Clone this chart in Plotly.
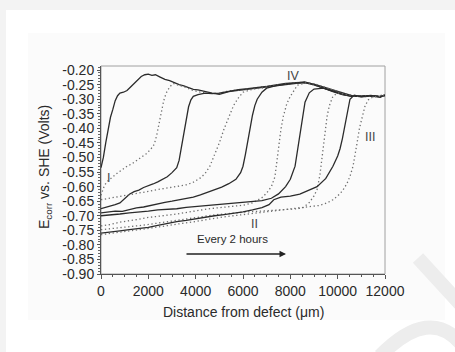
import plotly.graph_objects as go

# ---------------- data ----------------
x1 = [0,100,200,300,400,500,600,700,800,950,1100,1250,1400,1550,1700,1850,2000,2150,2300,2500,2700,2900,3100,3300,3500,3700,3900,4100,4400,4700,5000,5400,5800,6200,6600,7000,7400,7800,8200,8600,9000,9400,9800,10200,10600,11000,11400,11800,12000]
v1 = [-0.535,-0.50,-0.45,-0.40,-0.362,-0.335,-0.305,-0.288,-0.279,-0.276,-0.27,-0.258,-0.245,-0.232,-0.222,-0.216,-0.214,-0.218,-0.216,-0.224,-0.232,-0.236,-0.243,-0.25,-0.254,-0.26,-0.266,-0.268,-0.274,-0.279,-0.283,-0.274,-0.270,-0.266,-0.262,-0.258,-0.252,-0.248,-0.245,-0.242,-0.248,-0.258,-0.27,-0.28,-0.288,-0.292,-0.289,-0.293,-0.286]

x2 = [0,150,300,500,700,900,1100,1300,1500,1700,1900,2100,2250,2350,2450,2550,2650,2750,2900,3050,3300,3600,3900,4200,4600,5000,5400,5800,6200,6600,7000,7400,7800,8200,8600,9000,9400,9800,10200,10600,11000,11400,11800,12000]
v2 = [-0.63,-0.595,-0.58,-0.565,-0.553,-0.542,-0.53,-0.522,-0.51,-0.498,-0.488,-0.472,-0.455,-0.425,-0.385,-0.34,-0.305,-0.28,-0.258,-0.246,-0.252,-0.26,-0.27,-0.276,-0.28,-0.28,-0.271,-0.268,-0.266,-0.26,-0.256,-0.25,-0.247,-0.244,-0.243,-0.25,-0.26,-0.272,-0.282,-0.289,-0.291,-0.288,-0.292,-0.284]

x3 = [0,200,400,600,800,1000,1200,1400,1600,1800,2000,2200,2400,2600,2800,3000,3200,3300,3400,3500,3600,3700,3800,3900,4100,4400,4700,5000,5400,5800,6200,6600,7000,7400,7800,8200,8600,9000,9400,9800,10200,10600,11000,11400,11800,12000]
v3 = [-0.676,-0.672,-0.668,-0.662,-0.656,-0.642,-0.626,-0.617,-0.612,-0.603,-0.598,-0.591,-0.584,-0.576,-0.566,-0.552,-0.535,-0.51,-0.462,-0.41,-0.362,-0.326,-0.302,-0.29,-0.284,-0.279,-0.281,-0.279,-0.273,-0.267,-0.264,-0.261,-0.256,-0.251,-0.246,-0.244,-0.241,-0.249,-0.262,-0.274,-0.284,-0.29,-0.29,-0.287,-0.291,-0.288]

x4 = [0,300,600,900,1200,1500,1800,2100,2400,2700,3000,3300,3600,3900,4200,4400,4600,4800,5000,5200,5400,5600,5800,6000,6400,6800,7200,7600,8000,8400,8800,9200,9600,10000,10400,10800,11200,11600,12000]
v4 = [-0.645,-0.641,-0.637,-0.633,-0.629,-0.625,-0.619,-0.615,-0.61,-0.606,-0.601,-0.598,-0.594,-0.585,-0.57,-0.555,-0.53,-0.49,-0.45,-0.402,-0.36,-0.322,-0.296,-0.276,-0.266,-0.262,-0.254,-0.249,-0.245,-0.242,-0.246,-0.256,-0.268,-0.278,-0.287,-0.29,-0.289,-0.291,-0.285]

x5 = [0,300,600,900,1200,1500,1800,2100,2400,2700,3000,3300,3600,3900,4200,4500,4800,5100,5400,5700,5900,6000,6100,6200,6300,6400,6500,6600,6800,7000,7400,7800,8200,8600,9000,9400,9800,10200,10600,11000,11400,11800,12000]
v5 = [-0.69,-0.688,-0.684,-0.685,-0.679,-0.673,-0.67,-0.664,-0.66,-0.654,-0.65,-0.646,-0.642,-0.636,-0.628,-0.62,-0.61,-0.602,-0.59,-0.575,-0.552,-0.53,-0.49,-0.45,-0.40,-0.355,-0.322,-0.30,-0.276,-0.262,-0.253,-0.248,-0.244,-0.243,-0.251,-0.262,-0.273,-0.283,-0.29,-0.29,-0.288,-0.292,-0.287]

x6 = [0,400,800,1200,1600,2000,2400,2800,3200,3600,4000,4400,4800,5200,5600,6000,6400,6800,7000,7200,7350,7480,7600,7700,7850,8000,8300,8700,9100,9500,9900,10300,10700,11100,11500,12000]
v6 = [-0.735,-0.73,-0.722,-0.718,-0.712,-0.706,-0.703,-0.698,-0.694,-0.688,-0.682,-0.678,-0.674,-0.67,-0.668,-0.664,-0.656,-0.638,-0.622,-0.60,-0.566,-0.475,-0.405,-0.36,-0.316,-0.29,-0.252,-0.243,-0.249,-0.26,-0.272,-0.283,-0.289,-0.291,-0.289,-0.286]

x7 = [0,400,800,1200,1600,2000,2400,2800,3200,3600,4000,4400,4800,5200,5600,6000,6400,6800,7200,7500,7800,8000,8200,8300,8410,8520,8620,8800,9000,9400,9800,10200,10600,11000,11400,11800,12000]
v7 = [-0.70,-0.698,-0.694,-0.69,-0.688,-0.684,-0.68,-0.678,-0.676,-0.671,-0.668,-0.666,-0.662,-0.66,-0.658,-0.655,-0.652,-0.648,-0.64,-0.625,-0.60,-0.575,-0.53,-0.48,-0.416,-0.36,-0.31,-0.278,-0.265,-0.262,-0.272,-0.282,-0.289,-0.29,-0.288,-0.291,-0.286]

x8 = [0,400,800,1200,1600,2000,2400,2800,3200,3600,4000,4400,4800,5200,5600,6000,6400,6800,7200,7600,8000,8300,8540,8800,9000,9130,9250,9340,9450,9550,9650,9800,10000,10400,10800,11200,11600,12000]
v8 = [-0.748,-0.745,-0.742,-0.738,-0.734,-0.73,-0.725,-0.72,-0.716,-0.71,-0.705,-0.70,-0.697,-0.694,-0.69,-0.688,-0.686,-0.684,-0.682,-0.68,-0.678,-0.676,-0.672,-0.655,-0.632,-0.61,-0.56,-0.50,-0.42,-0.36,-0.322,-0.29,-0.278,-0.284,-0.29,-0.288,-0.292,-0.285]

x9 = [0,400,800,1200,1600,2000,2400,2800,3200,3600,4000,4400,4800,5200,5600,6000,6400,6800,7100,7300,7600,8000,8400,8800,9130,9500,9800,10000,10100,10200,10300,10400,10520,10700,11000,11400,11800,12000]
v9 = [-0.76,-0.757,-0.752,-0.748,-0.745,-0.74,-0.733,-0.726,-0.72,-0.716,-0.71,-0.704,-0.70,-0.696,-0.692,-0.687,-0.68,-0.672,-0.662,-0.645,-0.636,-0.633,-0.626,-0.612,-0.60,-0.572,-0.53,-0.495,-0.47,-0.435,-0.395,-0.345,-0.30,-0.286,-0.291,-0.288,-0.292,-0.287]

x10 = [0,400,800,1200,1600,2000,2400,2800,3200,3600,4000,4400,4800,5200,5600,6000,6400,6800,7200,7600,8000,8400,8800,9200,9550,9800,10000,10200,10390,10520,10650,10750,10820,10920,11030,11160,11300,11500,11800,12000]
v10 = [-0.765,-0.76,-0.756,-0.752,-0.748,-0.744,-0.74,-0.734,-0.729,-0.725,-0.72,-0.714,-0.708,-0.704,-0.70,-0.696,-0.693,-0.689,-0.686,-0.682,-0.678,-0.674,-0.67,-0.665,-0.656,-0.645,-0.632,-0.615,-0.59,-0.565,-0.53,-0.49,-0.45,-0.40,-0.36,-0.322,-0.302,-0.292,-0.29,-0.288]

x_tick_vals = [0, 2000, 4000, 6000, 8000, 10000, 12000]
x_tick_text = ["0", "2000", "4000", "6000", "8000", "10000", "12000"]
y_tick_vals = [-0.90, -0.85, -0.80, -0.75, -0.70, -0.65, -0.60, -0.55, -0.50,
               -0.45, -0.40, -0.35, -0.30, -0.25, -0.20]
y_tick_text = ["-0.90", "-0.85", "-0.80", "-0.75", "-0.70", "-0.65", "-0.60", "-0.55",
               "-0.50", "-0.45", "-0.40", "-0.35", "-0.30", "-0.25", "-0.20"]

region_labels = ["I", "II", "III", "IV"]
region_x = [300, 6500, 11350, 8100]
region_v = [-0.57, -0.73, -0.43, -0.22]

# ---------------- figure ----------------
curves = [(x1, v1), (x2, v2), (x3, v3), (x4, v4), (x5, v5),
          (x6, v6), (x7, v7), (x8, v8), (x9, v9), (x10, v10)]

FONT = "Liberation Sans, Arial, sans-serif"
fig = go.Figure()
for i, (xs, vs) in enumerate(curves):
    if i % 2 == 0:
        line = dict(color="#2b2b2b", width=1.3)
    else:
        line = dict(color="#6e6e6e", width=1.3, dash="1.3px,2.6px")
    fig.add_trace(go.Scatter(x=xs, y=vs, mode="lines", line=line,
                             showlegend=False, hoverinfo="skip"))

L, R, T, B = 101, 70, 66, 78
W, H = 455, 352
pw, ph = W - L - R, H - T - B

def px(xp):
    return (xp - L) / pw

def py(yp):
    return (H - B - yp) / ph

shapes = [
    dict(type="rect", xref="paper", yref="paper", x0=px(6), x1=px(455), y0=py(352), y1=py(10),
         fillcolor="white", line=dict(width=0), layer="below"),
    dict(type="rect", xref="paper", yref="paper", x0=px(28), x1=px(445), y0=py(320), y1=py(33),
         fillcolor="#fbfbfb", line=dict(width=0), layer="below"),
    dict(type="rect", xref="paper", yref="paper", x0=0, x1=1, y0=0, y1=1,
         line=dict(color="#a0a0a0", width=1), layer="below"),
    dict(type="line", xref="paper", yref="paper", x0=px(418), y0=py(258), x1=px(462), y1=py(306),
         line=dict(color="#ededed", width=14), layer="below"),
    dict(type="path", xref="paper", yref="paper",
         path="M {} {} Q {} {} {} {}".format(px(380), py(356), px(430), py(305), px(462), py(345)),
         line=dict(color="#ededed", width=14), layer="below"),
]

annotations = [
    dict(text="E<sub>corr</sub> vs. SHE (Volts)", xref="paper", yref="paper",
         x=px(45), y=py(167), textangle=-90, showarrow=False,
         font=dict(size=14, color="#2a2a2a", family=FONT), xanchor="center", yanchor="middle"),
    dict(text="Distance from defect (\u03bcm)", xref="paper", yref="paper",
         x=px(243), y=py(312), showarrow=False,
         font=dict(size=14, color="#2a2a2a", family=FONT), xanchor="center", yanchor="middle"),
    dict(text="Every 2 hours", xref="paper", yref="paper", x=px(232), y=py(239),
         showarrow=False, font=dict(size=11.5, color="#2a2a2a", family=FONT),
         xanchor="center", yanchor="middle"),
    dict(text="", xref="paper", yref="paper", x=px(286), y=py(254),
         ax=-101, ay=0, showarrow=True, arrowhead=2, arrowsize=1, arrowwidth=1.3,
         arrowcolor="#222222"),
]
for lab, xv, vv in zip(region_labels, region_x, region_v):
    annotations.append(dict(text=lab, x=xv, y=vv, xref="x", yref="y", showarrow=False,
                            font=dict(size=12.5, color="#444444", family=FONT)))

fig.update_layout(
    width=W, height=H,
    margin=dict(l=L, r=R, t=T, b=B, pad=0),
    paper_bgcolor="#f3f3f3",
    plot_bgcolor="rgba(0,0,0,0)",
    font=dict(family=FONT, size=14, color="#2a2a2a"),
    shapes=shapes,
    annotations=annotations,
    xaxis=dict(range=[0, 12000], tickvals=x_tick_vals, ticktext=x_tick_text,
               ticks="outside", ticklen=4, tickwidth=1, tickcolor="#555",
               showline=True, linecolor="#555", linewidth=1, showgrid=False, zeroline=False,
               tickfont=dict(size=14, color="#2a2a2a", family=FONT),
               minor=dict(tick0=0, dtick=500, ticks="outside", ticklen=2, tickcolor="#555")),
    yaxis=dict(range=[-0.90, -0.186], tickvals=y_tick_vals, ticktext=y_tick_text,
               ticks="outside", ticklen=3, tickwidth=1, tickcolor="#555",
               showline=True, linecolor="#555", linewidth=1, showgrid=False, zeroline=False,
               tickfont=dict(size=14, color="#2a2a2a", family=FONT),
               minor=dict(tick0=-0.9, dtick=0.01, ticks="outside", ticklen=2, tickcolor="#666")),
)

fig.write_html("out.html")
